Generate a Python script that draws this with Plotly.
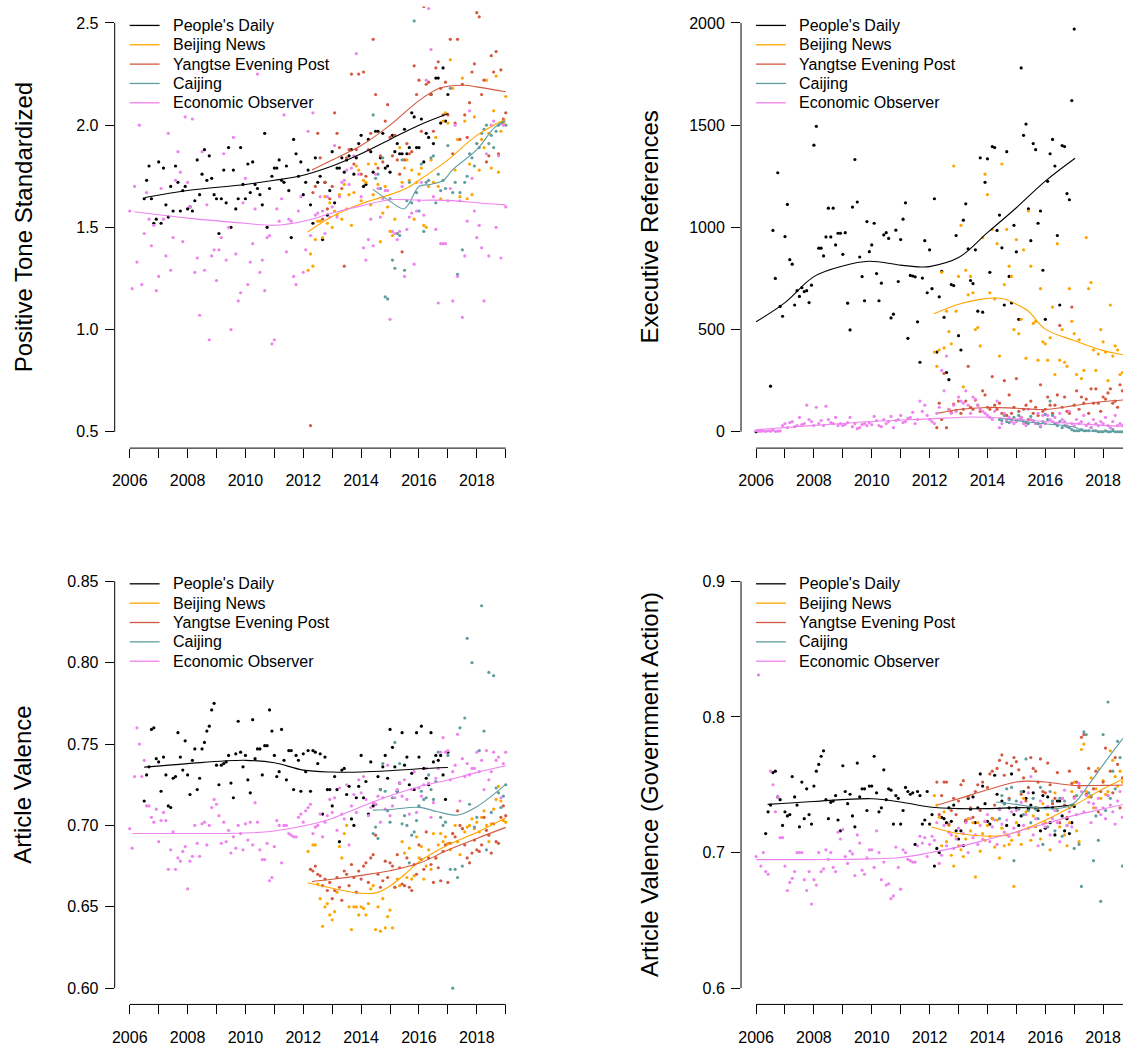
import plotly.graph_objects as go

# ------------------------------------------------------------------ data
SERIES = ["People's Daily", "Beijing News", "Yangtse Evening Post", "Caijing", "Economic Observer"]
COLORS = ["#000000", "#FFA500", "#D4583F", "#5F9EA0", "#EE82EE"]

YEAR_TICKS = list(range(2006, 2020))
YEAR_LABELS = [str(y) if y % 2 == 0 else "" for y in YEAR_TICKS]

# series start months (year, month) for monthly observations
START_PD = (2006, 7)
START_EO = (2006, 1)
START_BN = (2012, 3)
START_YEP = (2012, 4)
START_CJ = (2014, 6)

# ---------------- Panel 1: Positive Tone Standardized
TONE_TITLE = "Positive Tone Standardized"
TONE_YTICKS = [0.5, 1.0, 1.5, 2.0, 2.5]
TONE_YLABELS = ["0.5", "1.0", "1.5", "2.0", "2.5"]
TONE_PD = [1.64, 1.73, 1.80, 1.64, 1.52, 1.54,
           1.82, 1.52, 1.79, 1.61, 1.55, 1.70, 1.58, 1.80, 1.72, 1.58, 1.68, 1.70,
           1.59, 1.60, 1.58, 1.63, 1.83, 1.66, 1.76, 1.88, 1.73, 1.85, 1.74, 1.66,
           1.64, 1.47, 1.64, 1.78, 1.62, 1.89, 1.50, 1.78, 1.59, 1.64, 1.89, 1.71,
           1.64, 1.81, 1.67, 1.82, 1.71, 1.69, 1.66, 1.61, 1.96, 1.50, 1.69, 1.75,
           1.79, 1.79, 1.83, 1.73, 1.72, 1.80, 1.68, 1.45, 1.93, 1.86, 1.75, 1.82,
           1.66, 1.72, 1.78, 1.61, 1.52, 1.84, 1.72, 1.75, 1.44, 1.72, 1.56, 1.68,
           1.87, 1.62, 1.79, 1.79, 1.84, 1.77, 1.83, 1.85, 1.88, 1.76, 1.84, 1.91,
           1.95, 1.70, 1.71, 1.93, 1.87, 1.77, 1.97, 1.97, 1.84, 1.96, 1.79, 1.80,
           1.77, 1.95, 1.87, 1.91, 1.86, 1.86, 1.98, 1.86, 1.89, 2.06, 2.04, 1.89,
           1.89, 2.03, 1.82, 1.96, 1.94, 2.15, 1.91, 2.23, 2.23, 2.01, 2.28, 2.02,
           2.15]
TONE_EO = [1.58, 1.20, 1.70, 1.33, 2.00, 1.22, 1.47, 1.67, 1.54, 1.41, 1.51, 1.19,
           1.26, 1.69, 1.54, 1.36, 1.96, 1.29, 1.45, 1.73, 1.87, 1.77, 1.43, 2.04,
           1.72, 1.60, 2.03, 1.28, 1.35, 1.07, 1.87, 1.29, 1.61, 0.95, 1.36, 1.39,
           1.24, 1.39, 1.45, 1.86, 1.34, 1.50, 1.00, 1.94, 1.37, 1.14, 1.18, 1.62,
           1.74, 1.22, 1.33, 1.42, 1.59, 2.25, 1.28, 1.34, 1.19, 1.45, 1.46, 0.93,
           0.95, 1.59, 1.53, 1.64, 2.05, 1.38, 1.54, 1.53, 1.26, 1.22, 1.58, 1.65,
           1.28, 1.39, 1.97, 1.46, 2.06, 1.56, 1.57, 1.65, 1.58, 1.47, 1.65, 1.55,
           1.60, 1.90, 1.55, 1.65, 1.72, 1.73, 1.78, 1.71, 1.79, 1.85, 2.35, 1.76,
           1.65, 1.40, 1.34, 1.44, 1.54, 1.41, 1.76, 1.69, 1.55, 1.64, 1.68, 1.68,
           1.05, 1.48, 1.47, 1.44, 1.48, 1.70, 1.26, 1.49, 1.55, 1.57, 1.32, 1.58,
           1.63, 1.72, 1.56, 2.22, 2.57, 2.37, 1.65, 1.49, 1.13, 1.42, 1.42, 1.42,
           1.63, 1.69, 1.14, 2.00, 1.26, 1.63, 1.06, 1.36, 1.53, 2.07, 1.74, 1.58,
           1.45, 1.51, 1.40, 1.14, 1.86, 1.36, 2.00, 2.02, 1.50, 1.85, 1.35, 2.00,
           1.60]
TONE_BN = [1.29, 1.37, 1.31, 1.44, 1.53, 1.53, 1.45, 1.65, 1.52, 1.62,
           1.50, 1.58, 1.56, 1.66, 1.54, 1.71, 1.59, 1.66, 1.51, 1.67, 1.80, 1.78,
           1.63, 1.73, 1.72, 1.81, 1.61, 1.66, 1.81, 1.71, 1.43, 1.57, 1.70, 1.60,
           1.48, 1.46, 1.54, 1.47, 1.89, 1.72, 1.79, 1.83, 1.73, 1.78, 1.54, 1.72,
           1.76, 1.79, 1.51, 1.50, 1.70, 1.83, 1.72, 1.94, 1.70, 1.64, 2.02, 2.06,
           2.01, 2.32, 2.18, 1.78, 1.93, 1.65, 2.23, 2.02, 1.64, 1.81, 1.66, 2.04,
           1.91, 1.78, 1.93, 1.89, 2.22, 1.96, 1.79, 2.07, 2.24, 1.77, 1.97, 2.01,
           2.14]
TONE_YEP = [0.53, 1.67, 1.70, 1.96, 1.84, 1.54, 1.72, 1.59, 1.64,
            1.70, 2.06, 1.96, 1.89, 1.69, 1.31, 1.84, 1.88, 2.25, 1.81, 1.88, 2.25,
            1.76, 2.26, 1.75, 1.88, 1.96, 2.42, 2.15, 1.79, 1.85, 1.82, 2.02, 2.10,
            1.94, 1.85, 1.95, 1.83, 1.76, 1.38, 1.83, 1.91, 1.86, 1.87, 2.29, 2.15,
            2.22, 1.97, 2.58, 2.20, 2.21, 2.15, 1.97, 2.28, 2.31, 2.18, 2.05, 2.21,
            2.05, 2.42, 1.86, 2.01, 2.42, 1.93, 2.20, 2.05, 1.94, 2.11, 2.26, 2.30,
            2.55, 2.53, 2.15, 2.22, 1.82, 1.85, 2.34, 2.26, 2.36, 1.86, 2.27, 2.03,
            2.06]
TONE_CJ = [2.05, 1.74, 1.76, 1.69, 1.84, 1.16, 1.15,
           1.64, 1.34, 1.30, 1.47, 1.46, 1.83, 1.29, 1.63, 1.72, 1.62, 2.51, 1.67,
           1.58, 1.81, 1.48, 1.72, 1.73, 1.84, 1.85, 1.62, 1.76, 1.68, 1.73, 1.69,
           1.90, 2.18, 1.67, 1.72, 1.27, 1.67, 1.39, 1.72, 1.75, 1.86, 1.84, 1.80,
           1.91, 1.89, 1.96, 1.98, 2.00, 1.91, 1.95, 1.89, 1.97, 2.00, 2.01, 2.02,
           2.00]
# smoothed (loess) curves read at knots
TONE_FIT_PD_X = [2006.53, 2008, 2010, 2011, 2012, 2013, 2014, 2015, 2016, 2017.02]
TONE_FIT_PD_Y = [1.646, 1.68, 1.71, 1.73, 1.755, 1.80, 1.86, 1.93, 2.0, 2.057]
TONE_FIT_BN_X = [2012.15, 2013, 2014, 2015, 2015.55, 2016, 2017, 2018, 2019]
TONE_FIT_BN_Y = [1.477, 1.553, 1.615, 1.66, 1.69, 1.73, 1.83, 1.95, 2.03]
TONE_FIT_YEP_X = [2012.3, 2013, 2014, 2015, 2016, 2016.7, 2017, 2017.6, 2018, 2019]
TONE_FIT_YEP_Y = [1.78, 1.83, 1.90, 2.0, 2.12, 2.18, 2.19, 2.195, 2.187, 2.163]
TONE_FIT_CJ_X = [2014.4, 2015, 2015.48, 2015.67, 2016, 2016.4, 2016.85, 2017.15, 2018, 2018.63, 2019]
TONE_FIT_CJ_Y = [1.687, 1.627, 1.59, 1.62, 1.70, 1.71, 1.73, 1.78, 1.88, 1.99, 2.02]
TONE_FIT_EO_X = [2006.16, 2008, 2010, 2011, 2012, 2013, 2014, 2015, 2016, 2017, 2018, 2019]
TONE_FIT_EO_Y = [1.576, 1.545, 1.52, 1.51, 1.53, 1.57, 1.605, 1.635, 1.633, 1.632, 1.62, 1.61]

# ---------------- Panel 2: Executive References
EXEC_TITLE = "Executive References"
EXEC_YTICKS = [0, 500, 1000, 1500, 2000]
EXEC_YLABELS = ["0", "500", "1000", "1500", "2000"]
EXEC_PD_START = (2006, 1)
EXEC_PD = [0, None, None, None, None, None,
           223, 985, 750, 1267, 613, 565,
           955, 1112, 842, 820, 620, 690, 662, 705, 686, 690, 632, 717,
           1402, 1494, 898, 898, 860, 953, 1094, 953, 1094, 914, 971, 971,
           868, 974, 629, 498, 1099, 1332, 1124, 855, 759, 641, 1028, 881,
           914, 1020, 774, 641, 727, 963, 974, 946, 557, 575, 986, 735,
           940, 1040, 1120, 457, 765, 762, 758, 538, 340, 752, 935, 680,
           890, 700, 1140, 390, 660, 785, 560, 290, 255, 720, 715, 960,
           470, 400, 1035, 1115, 895, 740, 725, 890, 590, 1340, 585, 1220,
           1335, 780, 1395, 1390, 985, 1060, 900, 620, 1370, 760, 630, 1010,
           880, 550, 1780, 1450, 1505, 1090, 935, 1410, 1380, 1020, 1080, 790,
           550, 1225, 1360, 1430, 1300, 960, 620, 1400, 1395, 1165, 1135, 1620,
           1970]
EXEC_EO = [5, 2, 3, 4, 2, 5, 3, 8, 2, 3, 4, 30,
           40, 20, 45, 50, 25, 30, 70, 35, 40, 130, 60, 50,
           30, 120, 40, 55, 30, 125, 60, 45, 40, 70, 30, 40,
           30, 35, 45, 70, 25, 40, 15, 20, 35, 40, 30, 45,
           35, 75, 55, 30, 25, 60, 40, 50, 75, 20, 55, 60,
           80, 45, 50, 65, 70, 95, 40, 60, 150, 100, 130, 80,
           60, 50, 40, 90, 120, 300, 200, 370, 110, 90, 130, 100,
           170, 150, 140, 200, 130, 90, 170, 160, 130, 110, 100, 90,
           80, 70, 60, 100, 150, 20, 40, 90, 60, 70, 50, 40,
           50, 60, 70, 40, 30, 110, 60, 50, 40, 90, 30, 80,
           40, 80, 60, 50, 70, 40, 90, 60, 50, 30, 100, 40,
           30, 60, 40, 50, 80, 30, 40, 20, 60, 40, 30, 50,
           40, 70, 30, 20, 50, 80, 30, 40, 30, 60, 20, 30,
           40]
EXEC_BN = [390, 320, 400, 780, 410, 590, 490, 430, 1300, 590,
           760, 1010, 220, 790, 670, 760, 680, 500, 510, 420, 950, 1260,
           1160, 680, 990, 650, 920, 370, 1310, 720, 990, 810, 760, 500,
           940, 480, 550, 890, 360, 1080, 810, 530, 540, 350, 700, 440,
           430, 350, 460, 610, 280, 920, 350, 500, 340, 320, 700, 540,
           480, 280, 450, 260, 300, 950, 700, 730, 400, 300, 380, 500,
           440, 390, 250, 620, 370, 420, 400, 280, 290, 530, 200, 220,
           260]
EXEC_YEP = [20, 140, 60, 285, 20, 110, 95, 135, 105,
            150, 90, 110, 150, 320, 120, 110, 155, 130, 100, 200, 180,
            120, 110, 270, 130, 110, 140, 90, 250, 80, 180, 90, 120,
            260, 100, 70, 110, 130, 60, 150, 90, 120, 80, 230, 100,
            110, 170, 130, 90, 130, 180, 520, 120, 170, 100, 90, 610,
            130, 200, 110, 170, 140, 160, 90, 210, 140, 210, 140, 100,
            170, 160, 190, 210, 140, 150, 120, 230, 200, 110, 140, 180,
            150]
EXEC_CJ = [60, 55, 80, 50, 45, 60, 70,
           55, 80, 60, 50, 45, 40, 75, 55, 40, 40, 25, 50,
           85, 60, 150, 80, 40, 30, 50, 20, 30, 25, 20, 10,
           5, 5, 5, 10, 5, 5, 5, 20, 5, 5, 0, 0,
           0, 5, 0, 0, 10, 0, 0, 0, 0, 0, 0, 0,
           0]
EXEC_FIT_PD_X = [2006, 2007, 2008, 2009, 2009.9, 2011, 2011.7, 2012, 2013, 2014, 2015, 2016, 2017.03]
EXEC_FIT_PD_Y = [538, 632, 759, 811, 834, 815, 806, 808, 852, 974, 1096, 1226, 1338]
EXEC_FIT_BN_X = [2012.15, 2013, 2013.8, 2014.5, 2015, 2015.4, 2016, 2017, 2018, 2018.7, 2019]
EXEC_FIT_BN_Y = [577, 624, 649, 652, 624, 592, 502, 446, 397, 376, 362]
EXEC_FIT_YEP_X = [2012.3, 2013, 2014, 2015, 2016, 2017, 2018, 2019]
EXEC_FIT_YEP_Y = [91, 109, 119, 115, 109, 128, 148, 158]
EXEC_FIT_CJ_X = [2014.4, 2015, 2016, 2017, 2017.3, 2018, 2019]
EXEC_FIT_CJ_Y = [67, 55, 39, 23, 7, 2, 0]
EXEC_FIT_EO_X = [2006, 2008, 2010, 2012, 2013.5, 2014.5, 2016, 2018, 2019]
EXEC_FIT_EO_Y = [10, 31, 50, 63, 72, 67, 50, 31, 24]

# ---------------- Panel 3: Article Valence
VAL_TITLE = "Article Valence"
VAL_YTICKS = [0.60, 0.65, 0.70, 0.75, 0.80, 0.85]
VAL_YLABELS = ["0.60", "0.65", "0.70", "0.75", "0.80", "0.85"]
VAL_PD = [0.715, 0.731, 0.736, 0.759, 0.760, 0.741,
          0.739, 0.721, 0.742, 0.731, 0.712, 0.711, 0.729, 0.730, 0.757, 0.742, 0.734, 0.752,
          0.731, 0.719, 0.740, 0.747, 0.722, 0.729, 0.747, 0.751, 0.758, 0.761, 0.771, 0.775,
          0.737, 0.725, 0.737, 0.738, 0.739, 0.743, 0.726, 0.717, 0.744, 0.764, 0.745, 0.736,
          0.743, 0.728, 0.720, 0.765, 0.741, 0.747, 0.747, 0.731, 0.749, 0.749, 0.771, 0.758,
          0.743, 0.730, 0.733, 0.759, 0.740, 0.728, 0.746, 0.746, 0.722, 0.743, 0.740, 0.721,
          0.744, 0.733, 0.746, 0.721, 0.746, 0.745, 0.738, 0.744, 0.707, 0.742, 0.722, 0.722,
          0.712, 0.730, 0.722, 0.690, 0.734, 0.735, 0.719, 0.724, 0.704, 0.700, 0.717, 0.724,
          0.743, 0.717, 0.727, 0.707, 0.739, 0.712, 0.713, 0.730, 0.722, 0.736, 0.743, 0.729,
          0.759, 0.748, 0.736, 0.721, 0.726, 0.757, 0.737, 0.742, 0.725, 0.732, 0.722, 0.757,
          0.742, 0.761, 0.735, 0.729, 0.725, 0.757, 0.739, 0.743, 0.740, 0.743, 0.731, 0.716,
          0.745]
VAL_EO = [0.698, 0.686, 0.730, 0.760, 0.750, 0.730, 0.740, 0.712, 0.712, 0.705, 0.702, 0.710,
          0.690, 0.703, 0.708, 0.703, 0.673, 0.685, 0.696, 0.673, 0.680, 0.678, 0.684, 0.687,
          0.661, 0.678, 0.681, 0.700, 0.689, 0.681, 0.701, 0.702, 0.688, 0.700, 0.711, 0.716,
          0.713, 0.706, 0.689, 0.702, 0.690, 0.697, 0.683, 0.693, 0.686, 0.700, 0.695, 0.685,
          0.701, 0.691, 0.702, 0.688, 0.714, 0.702, 0.685, 0.679, 0.679, 0.689, 0.666, 0.668,
          0.687, 0.703, 0.700, 0.677, 0.700, 0.700, 0.695, 0.694, 0.693, 0.693, 0.705, 0.707,
          0.702, 0.709, 0.711, 0.713, 0.695, 0.699, 0.700, 0.707, 0.693, 0.702, 0.706, 0.716,
          0.708, 0.717, 0.697, 0.723, 0.707, 0.704, 0.725, 0.688, 0.712, 0.719, 0.708, 0.728,
          0.720, 0.730, 0.716, 0.706, 0.711, 0.714, 0.713, 0.718, 0.702, 0.717, 0.710, 0.737,
          0.706, 0.712, 0.717, 0.722, 0.726, 0.718, 0.728, 0.716, 0.707, 0.722, 0.733, 0.708,
          0.723, 0.718, 0.725, 0.735, 0.726, 0.705, 0.714, 0.729, 0.735, 0.745, 0.754, 0.745,
          0.746, 0.728, 0.733, 0.737, 0.756, 0.715, 0.741, 0.730, 0.738, 0.731, 0.735, 0.735,
          0.745, 0.733, 0.740, 0.722, 0.746, 0.728, 0.733, 0.745, 0.740, 0.742, 0.717, 0.738,
          0.745]
VAL_BN = [0.684, 0.673, 0.688, 0.688, 0.664, 0.655, 0.638, 0.650, 0.652, 0.645,
          0.642, 0.647, 0.659, 0.687, 0.680, 0.695, 0.700, 0.650, 0.636, 0.650, 0.650, 0.645,
          0.650, 0.649, 0.645, 0.652, 0.661, 0.663, 0.636, 0.650, 0.635, 0.655, 0.637, 0.644,
          0.648, 0.637, 0.662, 0.667, 0.663, 0.690, 0.683, 0.668, 0.686, 0.667, 0.669, 0.693,
          0.680, 0.687, 0.667, 0.675, 0.685, 0.673, 0.695, 0.680, 0.688, 0.695, 0.690, 0.693,
          0.689, 0.685, 0.695, 0.700, 0.690, 0.682, 0.698, 0.696, 0.699, 0.700, 0.704, 0.698,
          0.702, 0.696, 0.705, 0.709, 0.700, 0.690, 0.701, 0.710, 0.716, 0.724, 0.715, 0.703,
          0.702]
VAL_YEP = [0.673, 0.672, 0.675, 0.670, 0.669, 0.663, 0.667, 0.660, 0.665,
           0.655, 0.660, 0.668, 0.662, 0.654, 0.672, 0.670, 0.663, 0.676, 0.668, 0.659, 0.672,
           0.667, 0.675, 0.677, 0.665, 0.680, 0.682, 0.694, 0.670, 0.662, 0.666, 0.678, 0.668,
           0.677, 0.675, 0.662, 0.682, 0.674, 0.664, 0.663, 0.680, 0.662, 0.660, 0.676, 0.670,
           0.688, 0.679, 0.673, 0.696, 0.680, 0.676, 0.665, 0.680, 0.674, 0.666, 0.684, 0.688,
           0.665, 0.689, 0.695, 0.693, 0.709, 0.700, 0.698, 0.688, 0.680, 0.677, 0.683, 0.691,
           0.685, 0.684, 0.688, 0.705, 0.697, 0.694, 0.683, 0.701, 0.690, 0.689, 0.705, 0.712,
           0.706]
VAL_CJ = [0.695, 0.699, 0.692, 0.722, 0.738, 0.721, 0.709,
          0.702, 0.717, 0.751, 0.721, 0.738, 0.701, 0.706, 0.700, 0.677, 0.694, 0.696, 0.703,
          0.712, 0.721, 0.716, 0.717, 0.731, 0.722, 0.716, 0.727, 0.745, 0.705, 0.700, 0.702,
          0.743, 0.673, 0.600, 0.673, 0.668, 0.760, 0.675, 0.766, 0.815, 0.713, 0.800, 0.699,
          0.705, 0.746, 0.835, 0.758, 0.685, 0.794, 0.708, 0.792, 0.723, 0.720, 0.711, 0.718,
          0.725]
VAL_FIT_PD_X = [2006.5, 2008, 2010, 2011, 2012, 2013, 2014, 2015, 2016, 2017]
VAL_FIT_PD_Y = [0.7358, 0.738, 0.740, 0.7385, 0.734, 0.7328, 0.7328, 0.7336, 0.7348, 0.7356]
VAL_FIT_BN_X = [2012.15, 2013, 2014, 2014.55, 2015, 2015.55, 2016, 2017, 2018, 2019]
VAL_FIT_BN_Y = [0.6648, 0.6614, 0.6583, 0.6587, 0.6628, 0.6706, 0.6777, 0.688, 0.6957, 0.7047]
VAL_FIT_YEP_X = [2012.3, 2013, 2014, 2015, 2016, 2017, 2018, 2019]
VAL_FIT_YEP_Y = [0.6655, 0.6669, 0.6693, 0.6722, 0.6767, 0.6849, 0.692, 0.6988]
VAL_FIT_CJ_X = [2014.4, 2015, 2016, 2016.65, 2017.35, 2018, 2019]
VAL_FIT_CJ_Y = [0.7094, 0.7098, 0.7111, 0.7084, 0.7064, 0.7115, 0.7252]
VAL_FIT_EO_X = [2006.1, 2008, 2010, 2011, 2012, 2013, 2014, 2015, 2016, 2017, 2018, 2019]
VAL_FIT_EO_Y = [0.695, 0.695, 0.6953, 0.6966, 0.6996, 0.7043, 0.7115, 0.7182, 0.7238, 0.7279, 0.7326, 0.7367]

# ---------------- Panel 4: Article Valence (Government Action)
GOV_TITLE = "Article Valence (Government Action)"
GOV_YTICKS = [0.6, 0.7, 0.8, 0.9]
GOV_YLABELS = ["0.6", "0.7", "0.8", "0.9"]
GOV_PD_START = (2006, 5)
GOV_PD = [0.714, 0.730, 0.735, 0.759, 0.760, 0.741, 0.739, 0.720,
          0.730, 0.727, 0.728, 0.756, 0.741, 0.735, 0.719, 0.752, 0.725, 0.747, 0.728, 0.721,
          0.749, 0.760, 0.765, 0.771, 0.775, 0.739, 0.725, 0.737, 0.738, 0.742, 0.724, 0.716,
          0.764, 0.745, 0.736, 0.743, 0.727, 0.719, 0.766, 0.741, 0.747, 0.747, 0.731, 0.749,
          0.749, 0.771, 0.744, 0.730, 0.733, 0.761, 0.739, 0.747, 0.746, 0.721, 0.742, 0.740,
          0.721, 0.731, 0.748, 0.745, 0.743, 0.744, 0.706, 0.745, 0.742, 0.721, 0.724, 0.745,
          0.721, 0.728, 0.690, 0.703, 0.700, 0.726, 0.725, 0.722, 0.733, 0.723, 0.735, 0.716,
          0.710, 0.716, 0.705, 0.723, 0.740, 0.732, 0.741, 0.722, 0.733, 0.758, 0.749, 0.736,
          0.723, 0.721, 0.725, 0.757, 0.743, 0.732, 0.738, 0.736, 0.720, 0.733, 0.758, 0.728,
          0.733, 0.720, 0.727, 0.745, 0.740, 0.732, 0.735, 0.744, 0.733, 0.731, 0.716, 0.742,
          0.718, 0.741, 0.722, 0.733, 0.713, 0.738, 0.738, 0.727, 0.716, 0.725, 0.714, 0.722,
          0.734]
GOV_EO = [0.697, 0.831, 0.690, 0.700, 0.686, 0.684, 0.760, 0.750, 0.730, 0.741, 0.711, 0.711,
          0.690, 0.672, 0.678, 0.681, 0.686, 0.700, 0.700, 0.700, 0.680, 0.672, 0.686, 0.662,
          0.680, 0.676, 0.700, 0.686, 0.688, 0.702, 0.695, 0.700, 0.689, 0.686, 0.715, 0.710,
          0.717, 0.697, 0.692, 0.701, 0.699, 0.683, 0.713, 0.707, 0.687, 0.684, 0.696, 0.702,
          0.702, 0.689, 0.716, 0.700, 0.680, 0.693, 0.676, 0.677, 0.666, 0.668, 0.704, 0.689,
          0.673, 0.702, 0.700, 0.695, 0.694, 0.693, 0.693, 0.705, 0.712, 0.707, 0.711, 0.697,
          0.706, 0.712, 0.709, 0.722, 0.692, 0.698, 0.720, 0.705, 0.715, 0.713, 0.703, 0.710,
          0.718, 0.705, 0.714, 0.722, 0.700, 0.725, 0.711, 0.713, 0.706, 0.720, 0.710, 0.723,
          0.728, 0.708, 0.719, 0.724, 0.706, 0.732, 0.721, 0.715, 0.724, 0.712, 0.730, 0.718,
          0.731, 0.715, 0.737, 0.720, 0.728, 0.744, 0.756, 0.713, 0.725, 0.705, 0.738, 0.721,
          0.719, 0.734, 0.713, 0.725, 0.731, 0.722, 0.708, 0.740, 0.746, 0.720, 0.730, 0.719,
          0.740, 0.728, 0.751, 0.745, 0.730, 0.742, 0.737, 0.722, 0.736, 0.733, 0.740, 0.728,
          0.733, 0.725, 0.742, 0.735, 0.730, 0.721, 0.738, 0.745, 0.726, 0.743, 0.732, 0.737,
          0.740]
GOV_BN = [0.742, 0.735, 0.726, 0.705, 0.730, 0.708, 0.720, 0.698, 0.690, 0.712,
          0.705, 0.702, 0.697, 0.710, 0.725, 0.716, 0.722, 0.682, 0.722, 0.701, 0.714, 0.709,
          0.720, 0.712, 0.725, 0.704, 0.724, 0.696, 0.718, 0.705, 0.713, 0.706, 0.709, 0.675,
          0.722, 0.713, 0.706, 0.740, 0.730, 0.718, 0.709, 0.727, 0.719, 0.733, 0.710, 0.736,
          0.722, 0.728, 0.702, 0.738, 0.744, 0.731, 0.719, 0.740, 0.713, 0.705, 0.722, 0.745,
          0.752, 0.716, 0.708, 0.776, 0.780, 0.745, 0.741, 0.755, 0.733, 0.747, 0.762, 0.740,
          0.753, 0.743, 0.745, 0.775, 0.768, 0.756, 0.749, 0.760, 0.752, 0.747, 0.766, 0.758,
          0.770]
GOV_YEP = [0.752, 0.728, 0.742, 0.752, 0.752, 0.721, 0.731, 0.740, 0.728,
           0.738, 0.750, 0.753, 0.724, 0.741, 0.733, 0.726, 0.745, 0.750, 0.731, 0.752, 0.723,
           0.748, 0.758, 0.760, 0.735, 0.762, 0.768, 0.772, 0.757, 0.766, 0.740, 0.764, 0.770,
           0.767, 0.761, 0.743, 0.755, 0.738, 0.748, 0.770, 0.762, 0.760, 0.752, 0.769, 0.745,
           0.744, 0.766, 0.750, 0.736, 0.740, 0.759, 0.722, 0.740, 0.735, 0.726, 0.760, 0.751,
           0.741, 0.752, 0.748, 0.785, 0.787, 0.743, 0.762, 0.741, 0.747, 0.760, 0.730, 0.745,
           0.752, 0.777, 0.742, 0.760, 0.744, 0.770, 0.765, 0.733, 0.755, 0.748, 0.740, 0.752,
           0.750]
GOV_CJ = [0.725, 0.742, 0.736, 0.747, 0.739, 0.748, 0.694,
          0.738, 0.732, 0.745, 0.728, 0.769, 0.731, 0.722, 0.740, 0.732, 0.725, 0.748, 0.706,
          0.733, 0.719, 0.745, 0.738, 0.716, 0.731, 0.740, 0.712, 0.738, 0.720, 0.733, 0.735,
          0.703, 0.742, 0.706, 0.675, 0.789, 0.787, 0.744, 0.742, 0.694, 0.727, 0.709, 0.664,
          0.787, 0.731, 0.811, 0.740, 0.760, 0.747, 0.782, 0.770, 0.690, 0.800, 0.780, 0.760,
          0.790]
GOV_FIT_PD_X = [2006.4, 2008, 2010, 2011, 2012, 2013, 2014, 2015, 2016, 2017]
GOV_FIT_PD_Y = [0.7355, 0.7377, 0.7397, 0.7373, 0.7336, 0.7324, 0.7324, 0.7331, 0.7331, 0.7353]
GOV_FIT_BN_X = [2012.07, 2013, 2014, 2014.5, 2015, 2016, 2017, 2018, 2018.7, 2019]
GOV_FIT_BN_Y = [0.7189, 0.714, 0.712, 0.7125, 0.7152, 0.7238, 0.7348, 0.747, 0.7544, 0.758]
GOV_FIT_YEP_X = [2012.3, 2013, 2014, 2015, 2015.4, 2016, 2017, 2018, 2019]
GOV_FIT_YEP_Y = [0.7353, 0.7397, 0.7463, 0.752, 0.7527, 0.752, 0.7495, 0.7495, 0.750]
GOV_FIT_CJ_X = [2014.3, 2015, 2016, 2016.6, 2017, 2017.5, 2018.1, 2018.7, 2019]
GOV_FIT_CJ_Y = [0.7373, 0.7355, 0.7324, 0.733, 0.7365, 0.750, 0.7676, 0.7846, 0.792]
GOV_FIT_EO_X = [2006, 2008, 2010, 2011, 2012, 2013, 2014, 2015, 2016, 2017, 2018, 2019]
GOV_FIT_EO_Y = [0.6948, 0.6948, 0.6953, 0.6963, 0.6998, 0.7042, 0.7096, 0.7152, 0.7213, 0.7274, 0.7321, 0.737]

# ------------------------------------------------------------------ helpers
def months(start, n):
    y, m = start
    return [y + (m - 1 + i) / 12.0 for i in range(n)]


PANELS = [
    dict(title=TONE_TITLE, yticks=TONE_YTICKS, ylabels=TONE_YLABELS,
         points=[(TONE_PD, START_PD), (TONE_BN, START_BN), (TONE_YEP, START_YEP),
                 (TONE_CJ, START_CJ), (TONE_EO, START_EO)],
         fits=[(TONE_FIT_PD_X, TONE_FIT_PD_Y), (TONE_FIT_BN_X, TONE_FIT_BN_Y),
               (TONE_FIT_YEP_X, TONE_FIT_YEP_Y), (TONE_FIT_CJ_X, TONE_FIT_CJ_Y),
               (TONE_FIT_EO_X, TONE_FIT_EO_Y)]),
    dict(title=EXEC_TITLE, yticks=EXEC_YTICKS, ylabels=EXEC_YLABELS,
         points=[(EXEC_PD, EXEC_PD_START), (EXEC_BN, START_BN), (EXEC_YEP, START_YEP),
                 (EXEC_CJ, START_CJ), (EXEC_EO, START_EO)],
         fits=[(EXEC_FIT_PD_X, EXEC_FIT_PD_Y), (EXEC_FIT_BN_X, EXEC_FIT_BN_Y),
               (EXEC_FIT_YEP_X, EXEC_FIT_YEP_Y), (EXEC_FIT_CJ_X, EXEC_FIT_CJ_Y),
               (EXEC_FIT_EO_X, EXEC_FIT_EO_Y)]),
    dict(title=VAL_TITLE, yticks=VAL_YTICKS, ylabels=VAL_YLABELS,
         points=[(VAL_PD, START_PD), (VAL_BN, START_BN), (VAL_YEP, START_YEP),
                 (VAL_CJ, START_CJ), (VAL_EO, START_EO)],
         fits=[(VAL_FIT_PD_X, VAL_FIT_PD_Y), (VAL_FIT_BN_X, VAL_FIT_BN_Y),
               (VAL_FIT_YEP_X, VAL_FIT_YEP_Y), (VAL_FIT_CJ_X, VAL_FIT_CJ_Y),
               (VAL_FIT_EO_X, VAL_FIT_EO_Y)]),
    dict(title=GOV_TITLE, yticks=GOV_YTICKS, ylabels=GOV_YLABELS,
         points=[(GOV_PD, GOV_PD_START), (GOV_BN, START_BN), (GOV_YEP, START_YEP),
                 (GOV_CJ, START_CJ), (GOV_EO, START_EO)],
         fits=[(GOV_FIT_PD_X, GOV_FIT_PD_Y), (GOV_FIT_BN_X, GOV_FIT_BN_Y),
               (GOV_FIT_YEP_X, GOV_FIT_YEP_Y), (GOV_FIT_CJ_X, GOV_FIT_CJ_Y),
               (GOV_FIT_EO_X, GOV_FIT_EO_Y)]),
]

# ------------------------------------------------------------------ layout geometry (px)
W, H = 1123, 1046
FONT = "Liberation Sans, Arial, Helvetica, sans-serif"
PX_PER_YEAR = 29.0
X_FIRST, X_LAST = YEAR_TICKS[0], YEAR_TICKS[-1]
XPAD = 0.04 * (X_LAST - X_FIRST)
AXIS_X = [112, 740, 112, 740]          # y-axis line position
TOP_TICK = [23, 23, 583, 583]          # pixel of the highest y tick
BOT_TICK = [433, 433, 991, 991]        # pixel of the lowest y tick

fig = go.Figure()
shapes, annotations = [], []
layout_axes = {}

for i, p in enumerate(PANELS):
    k = "" if i == 0 else str(i + 1)
    xa, ya = "x" + k, "y" + k
    lo, hi = p["yticks"][0], p["yticks"][-1]
    ypad = 0.04 * (hi - lo)
    ypad_px = 0.04 * (BOT_TICK[i] - TOP_TICK[i])
    left = AXIS_X[i]
    right = min(left + (X_LAST - X_FIRST + 2 * XPAD) * PX_PER_YEAR, W)
    top = TOP_TICK[i] - ypad_px
    bottom = BOT_TICK[i] + ypad_px
    xr = [X_FIRST - XPAD, X_FIRST - XPAD + (right - left) / PX_PER_YEAR]
    yr = [lo - ypad, hi + ypad]

    layout_axes["xaxis" + k] = dict(
        domain=[left / W, right / W], range=xr, anchor=ya,
        tickvals=YEAR_TICKS, ticktext=YEAR_LABELS, ticks="outside", ticklen=9,
        tickwidth=1, tickcolor="#000", showline=False, showgrid=False, zeroline=False,
        tickfont=dict(family=FONT, size=16, color="#000"), ticklabelstandoff=9,
        fixedrange=True)
    layout_axes["yaxis" + k] = dict(
        domain=[1 - bottom / H, 1 - top / H], range=yr, anchor=xa,
        tickvals=p["yticks"], ticktext=p["ylabels"], ticks="outside", ticklen=9,
        tickwidth=1, tickcolor="#000", showline=False, showgrid=False, zeroline=False,
        tickfont=dict(family=FONT, size=16, color="#000"), ticklabelstandoff=3,
        fixedrange=True)

    def px_x(year):
        return (left + (year - xr[0]) * PX_PER_YEAR) / W

    def py(v):
        return 1 - (TOP_TICK[i] + (hi - v) / (hi - lo) * (BOT_TICK[i] - TOP_TICK[i])) / H

    # R-style axis lines spanning only the tick range
    shapes.append(dict(type="line", xref="paper", yref="paper",
                       x0=left / W, x1=left / W, y0=py(lo), y1=py(hi),
                       line=dict(color="#000", width=1)))
    shapes.append(dict(type="line", xref="paper", yref="paper",
                       x0=px_x(X_FIRST), x1=min(px_x(X_LAST), 1.0),
                       y0=1 - bottom / H, y1=1 - bottom / H,
                       line=dict(color="#000", width=1)))

    # points
    for s, (vals, start) in enumerate(p["points"]):
        fig.add_trace(go.Scatter(
            x=months(start, len(vals)), y=vals, mode="markers", xaxis=xa, yaxis=ya,
            marker=dict(color=COLORS[s], size=3.2, line=dict(width=0)),
            showlegend=False, hoverinfo="skip"))
    # smoothed curves
    for s, (fx, fy) in enumerate(p["fits"]):
        fig.add_trace(go.Scatter(
            x=fx, y=fy, mode="lines", xaxis=xa, yaxis=ya, name=SERIES[s],
            line=dict(color=COLORS[s], width=1.1, shape="spline", smoothing=1.0),
            showlegend=False, hoverinfo="skip"))

    # y-axis title
    annotations.append(dict(
        text=p["title"], xref="paper", yref="paper",
        x=(left - 92) / W, y=1 - (TOP_TICK[i] + BOT_TICK[i]) / 2 / H,
        xanchor="center", yanchor="middle", textangle=-90, showarrow=False,
        font=dict(family=FONT, size=24, color="#000")))

    # legend (R style, no box)
    for s, name in enumerate(SERIES):
        ry = TOP_TICK[i] + 2.5 + 19.4 * s
        shapes.append(dict(type="line", xref="paper", yref="paper",
                           x0=(left + 15) / W, x1=(left + 45) / W,
                           y0=1 - ry / H, y1=1 - ry / H,
                           line=dict(color=COLORS[s], width=1.3)))
        annotations.append(dict(
            text=name, xref="paper", yref="paper", x=(left + 56) / W, y=1 - ry / H,
            xanchor="left", yanchor="middle", showarrow=False,
            font=dict(family=FONT, size=16, color="#000")))

fig.update_layout(
    width=W, height=H, margin=dict(l=0, r=0, t=0, b=0, pad=0),
    paper_bgcolor="white", plot_bgcolor="white", showlegend=False,
    shapes=shapes, annotations=annotations, hovermode=False,
    font=dict(family=FONT, size=16, color="#000"),
    **layout_axes)

fig.write_html("out.html", config={"displayModeBar": False},
               post_script="document.body.style.margin='0px';")
